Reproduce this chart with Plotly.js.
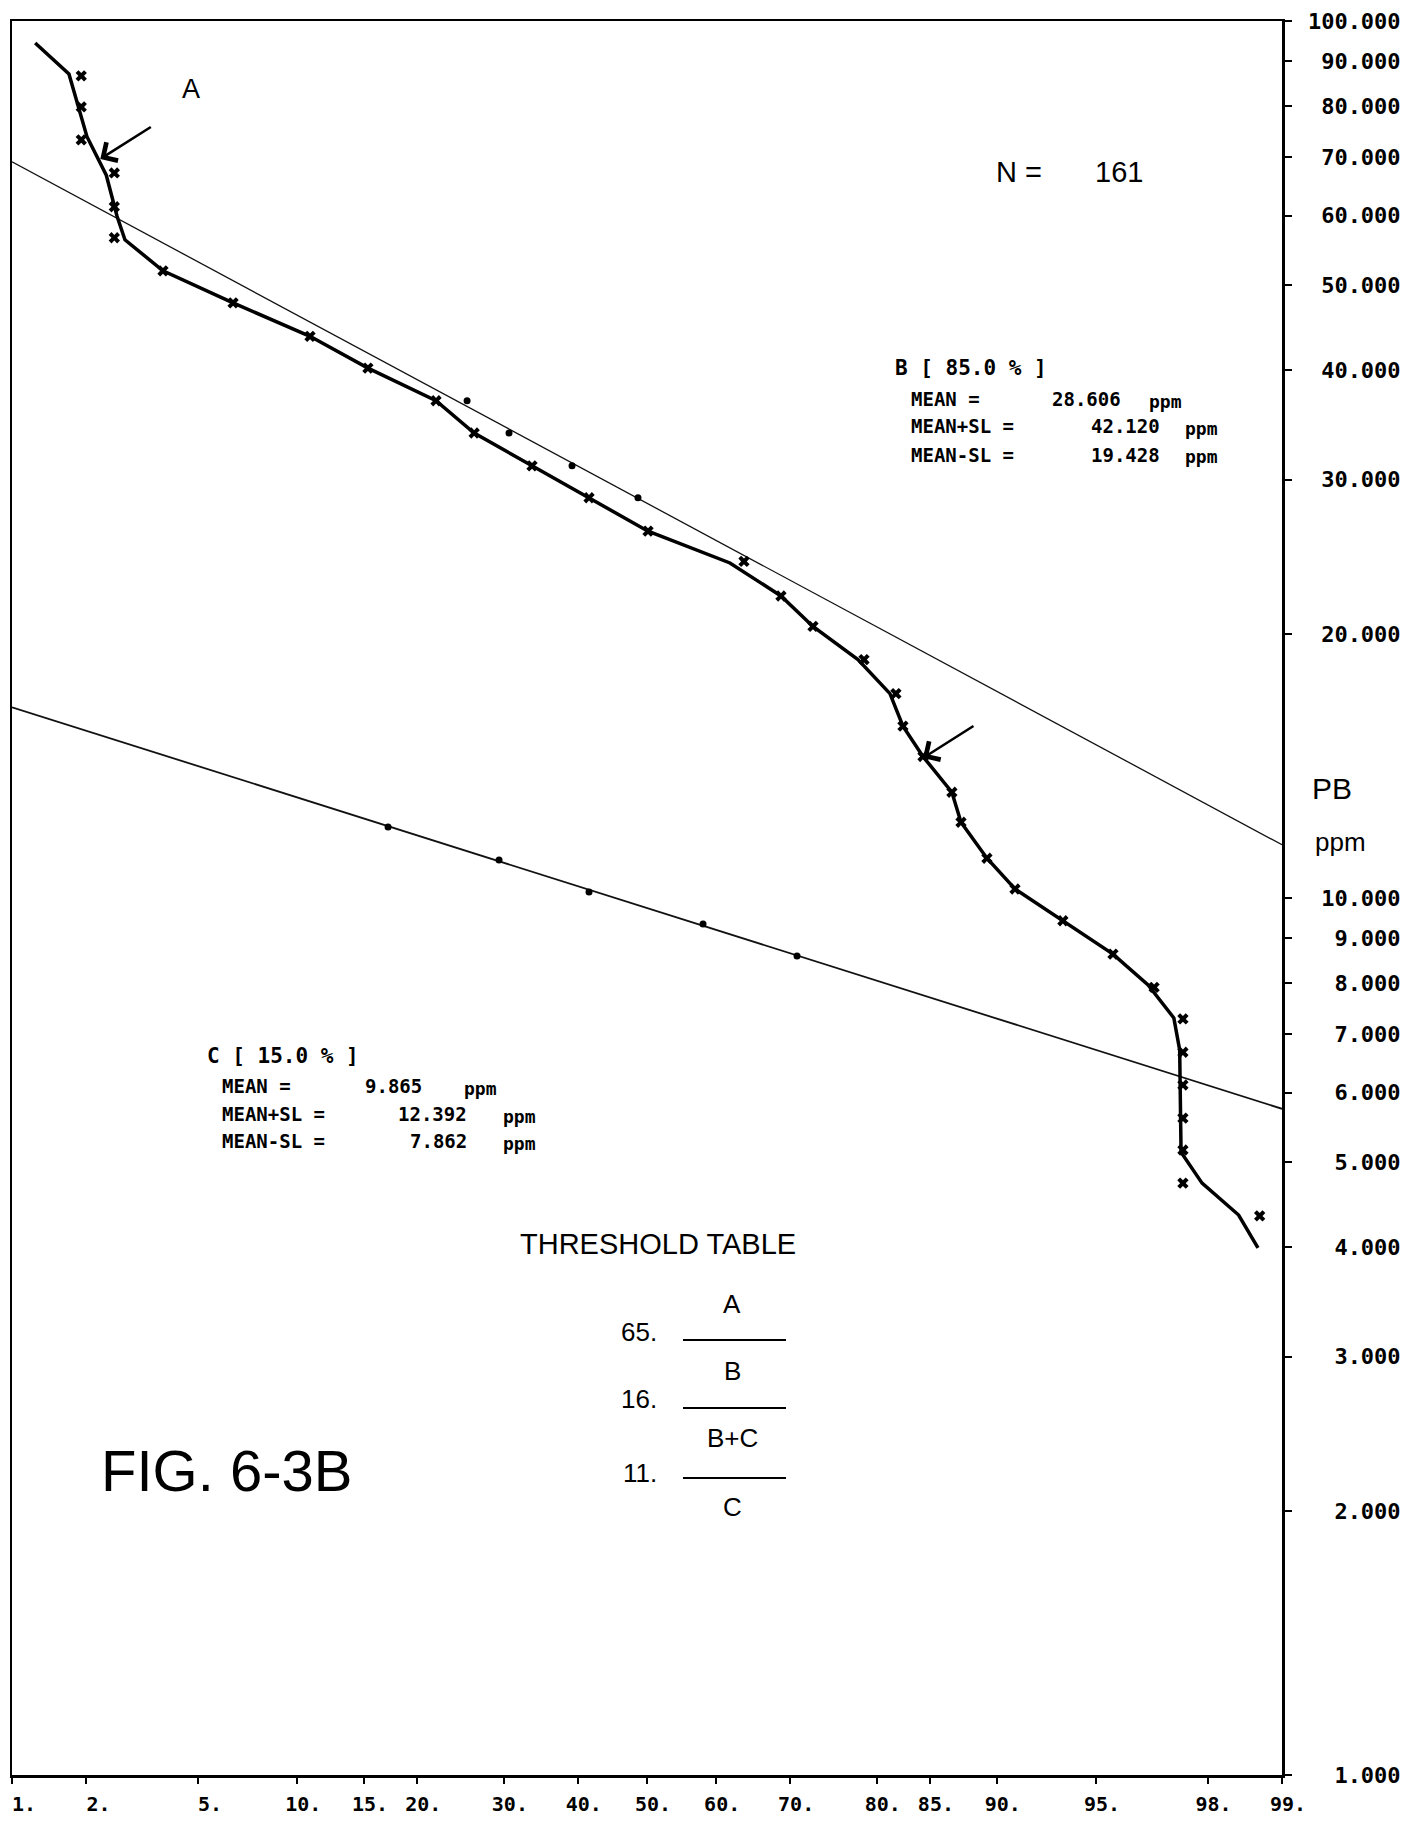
<!DOCTYPE html>
<html>
<head>
<meta charset="utf-8">
<script src="https://cdn.plot.ly/plotly-3.0.1.min.js"></script>
<style>
  html, body { margin: 0; padding: 0; background: #ffffff; }
  #chart { width: 1404px; height: 1822px; }
</style>
</head>
<body>
<div id="chart"></div>
<script>
// ---------------- DATA ----------------
// cumulative frequency (%) and PB concentration (ppm)
const curvePct = [1.25, 1.71, 2.01, 2.38, 2.61, 2.79, 3.81, 6.47, 10.85, 15.33, 21.98, 26.33, 33.68, 41.59, 50.15,
                  61.94, 68.82, 72.84, 78.02, 81.33, 82.58, 84.40, 86.80, 87.50, 89.35, 91.12, 93.62, 95.61,
                  96.68, 97.32, 97.45, 97.48, 97.90, 98.49, 98.74];
const curvePpm = [94.4, 87.0, 73.8, 66.7, 59.9, 56.3, 51.9, 47.7, 43.7, 40.2, 36.9, 33.9, 31.1, 28.6, 26.2,
                  24.1, 22.1, 20.4, 18.7, 17.1, 15.7, 14.5, 13.2, 12.2, 11.1, 10.24, 9.42, 8.63,
                  7.96, 7.30, 6.71, 5.13, 4.73, 4.35, 3.99];

const pointPct = [1.91, 1.91, 1.91, 2.55, 2.55, 2.55, 3.81, 6.47, 10.85, 15.33, 21.98, 26.33, 33.68, 41.59, 50.15,
                  63.88, 68.82, 72.84, 78.67, 81.91, 82.58, 84.40, 86.80, 87.50, 89.35, 91.12, 93.62, 95.61,
                  96.84, 97.52, 97.52, 97.52, 97.52, 97.52, 97.52, 98.76];
const pointPpm = [86.6, 79.8, 73.2, 67.1, 61.4, 56.6, 51.9, 47.7, 43.7, 40.2, 36.9, 33.9, 31.1, 28.6, 26.2,
                  24.2, 22.1, 20.4, 18.7, 17.1, 15.7, 14.5, 13.2, 12.2, 11.1, 10.24, 9.42, 8.63,
                  7.91, 7.28, 6.67, 6.12, 5.61, 5.16, 4.73, 4.34];

// population B (85 %) fitted line and its plotted points
const bLinePct = [1, 99];
const bLinePpm = [69.1, 11.5];
const bDotPct = [25.49, 30.66, 39.18, 48.68];
const bDotPpm = [36.9, 33.9, 31.1, 28.6];

// population C (15 %) fitted line and its plotted points
const cLinePct = [1, 99];
const cLinePpm = [16.5, 5.75];
const cDotPct = [17.14, 29.39, 41.59, 58.13, 70.87];
const cDotPpm = [12.05, 11.05, 10.16, 9.34, 8.59];

// arrows (tip positions)
const arrowPct = [2.26, 84.4];
const arrowPpm = [69.6, 14.44];

// axes
const xTickPct = [1, 2, 5, 10, 15, 20, 30, 40, 50, 60, 70, 80, 85, 90, 95, 98, 99];
const xTickText = ['1.', '2.', '5.', '10.', '15.', '20.', '30.', '40.', '50.', '60.', '70.', '80.', '85.', '90.', '95.', '98.', '99.'];
const yTickVals = [1, 2, 3, 4, 5, 6, 7, 8, 9, 10, 20, 30, 40, 50, 60, 70, 80, 90, 100];
const yTickText = ['1.000', '2.000', '3.000', '4.000', '5.000', '6.000', '7.000', '8.000', '9.000', '10.000',
                   '20.000', '30.000', '40.000', '50.000', '60.000', '70.000', '80.000', '90.000', '100.000'];

// ---------------- probability (normal quantile) scale ----------------
function probit(p) {
  const a = [-3.969683028665376e+01, 2.209460984245205e+02, -2.759285104469687e+02, 1.383577518672690e+02, -3.066479806614716e+01, 2.506628277459239e+00];
  const b = [-5.447609879822406e+01, 1.615858368580409e+02, -1.556989798598866e+02, 6.680131188771972e+01, -1.328068155288572e+01];
  const c = [-7.784894002430293e-03, -3.223964580411365e-01, -2.400758277161838e+00, -2.549732539343734e+00, 4.374664141464968e+00, 2.938163982698783e+00];
  const d = [7.784695709041462e-03, 3.224671290700398e-01, 2.445134137142996e+00, 3.754408661907416e+00];
  const plow = 0.02425, phigh = 1 - plow;
  let q, r;
  if (p < plow) {
    q = Math.sqrt(-2 * Math.log(p));
    return (((((c[0]*q+c[1])*q+c[2])*q+c[3])*q+c[4])*q+c[5]) / ((((d[0]*q+d[1])*q+d[2])*q+d[3])*q+1);
  }
  if (p <= phigh) {
    q = p - 0.5; r = q * q;
    return (((((a[0]*r+a[1])*r+a[2])*r+a[3])*r+a[4])*r+a[5])*q / (((((b[0]*r+b[1])*r+b[2])*r+b[3])*r+b[4])*r+1);
  }
  q = Math.sqrt(-2 * Math.log(1 - p));
  return -(((((c[0]*q+c[1])*q+c[2])*q+c[3])*q+c[4])*q+c[5]) / ((((d[0]*q+d[1])*q+d[2])*q+d[3])*q+1);
}
const pz = arr => arr.map(v => probit(v / 100));

// ---------------- traces ----------------
const traces = [
  { x: pz(bLinePct), y: bLinePpm, mode: 'lines', line: { color: '#111', width: 1.3 }, hoverinfo: 'skip' },
  { x: pz(cLinePct), y: cLinePpm, mode: 'lines', line: { color: '#111', width: 1.8 }, hoverinfo: 'skip' },
  { x: pz(curvePct), y: curvePpm, mode: 'lines', line: { color: '#000', width: 3.5 }, hoverinfo: 'skip' },
  { x: pz(pointPct), y: pointPpm, mode: 'markers', marker: { symbol: 'x', size: 10, color: '#000' }, hoverinfo: 'skip' },
  { x: pz(bDotPct), y: bDotPpm, mode: 'markers', marker: { symbol: 'circle', size: 7, color: '#000' }, hoverinfo: 'skip' },
  { x: pz(cDotPct), y: cDotPpm, mode: 'markers', marker: { symbol: 'circle', size: 7, color: '#000' }, hoverinfo: 'skip' }
];

// ---------------- layout helpers (pixel -> paper) ----------------
const L = 12, R = 1282, T = 21, B = 1775;
const px = (x) => (x - L) / (R - L);
const py = (y) => (B - y) / (B - T);
const mono = 'DejaVu Sans Mono, Liberation Mono, monospace';
const sans = 'Liberation Sans, Arial, sans-serif';

function txt(text, x, y, opt) {
  opt = opt || {};
  return {
    text: text, xref: 'paper', yref: 'paper', x: px(x), y: py(y),
    xanchor: opt.anchor || 'left', yanchor: 'middle', showarrow: false,
    font: { family: opt.family || mono, size: opt.size || 20, color: '#000', weight: opt.weight || 'normal' }
  };
}

const annotations = [
  txt('A', 191, 89, { family: sans, size: 27, anchor: 'center' }),
  txt('N =', 994, 172, { family: sans, size: 29 }),
  txt('161', 1093, 172, { family: sans, size: 29 }),

  txt('B [ 85.0 % ]', 893, 368, { size: 21, weight: 'bold' }),
  txt('MEAN =', 909, 399, { size: 19, weight: 'bold' }),
  txt('28.606', 1123, 399, { size: 19, weight: 'bold', anchor: 'right' }),
  txt('ppm', 1147, 401, { size: 18, weight: 'bold' }),
  txt('MEAN+SL =', 909, 426, { size: 19, weight: 'bold' }),
  txt('42.120', 1162, 426, { size: 19, weight: 'bold', anchor: 'right' }),
  txt('ppm', 1183, 428, { size: 18, weight: 'bold' }),
  txt('MEAN-SL =', 909, 455, { size: 19, weight: 'bold' }),
  txt('19.428', 1162, 455, { size: 19, weight: 'bold', anchor: 'right' }),
  txt('ppm', 1183, 457, { size: 18, weight: 'bold' }),

  txt('C [ 15.0 % ]', 205, 1056, { size: 21, weight: 'bold' }),
  txt('MEAN =', 220, 1086, { size: 19, weight: 'bold' }),
  txt('9.865', 424, 1086, { size: 19, weight: 'bold', anchor: 'right' }),
  txt('ppm', 462, 1088, { size: 18, weight: 'bold' }),
  txt('MEAN+SL =', 220, 1114, { size: 19, weight: 'bold' }),
  txt('12.392', 469, 1114, { size: 19, weight: 'bold', anchor: 'right' }),
  txt('ppm', 501, 1116, { size: 18, weight: 'bold' }),
  txt('MEAN-SL =', 220, 1141, { size: 19, weight: 'bold' }),
  txt('7.862', 469, 1141, { size: 19, weight: 'bold', anchor: 'right' }),
  txt('ppm', 501, 1143, { size: 18, weight: 'bold' }),

  txt('PB', 1310, 788, { family: sans, size: 30 }),
  txt('ppm', 1313, 842, { family: sans, size: 26 }),

  txt('THRESHOLD TABLE', 658, 1244, { family: sans, size: 29, anchor: 'center' }),
  txt('A', 732, 1304, { family: sans, size: 26, anchor: 'center' }),
  txt('65.', 659, 1332, { family: sans, size: 26, anchor: 'right' }),
  txt('B', 732, 1371, { family: sans, size: 26, anchor: 'center' }),
  txt('16.', 659, 1399, { family: sans, size: 26, anchor: 'right' }),
  txt('B+C', 732, 1438, { family: sans, size: 26, anchor: 'center' }),
  txt('11.', 659, 1473, { family: sans, size: 26, anchor: 'right' }),
  txt('C', 732, 1507, { family: sans, size: 26, anchor: 'center' }),

  txt('FIG. 6-3B', 99, 1470, { family: sans, size: 58 })
];

arrowPct.forEach((p, i) => {
  annotations.push({
    xref: 'x', yref: 'y', x: probit(p / 100), y: Math.log10(arrowPpm[i]),
    ax: 52, ay: -33, axref: 'pixel', ayref: 'pixel',
    showarrow: true, arrowhead: 4, arrowsize: 1.6, arrowwidth: 2.6, arrowcolor: '#000',
    standoff: 0, text: ''
  });
});

const shapes = [1340, 1408, 1478].map(y => ({
  type: 'line', xref: 'paper', yref: 'paper',
  x0: px(683), x1: px(786), y0: py(y), y1: py(y),
  line: { color: '#000', width: 2 }
}));

const layout = {
  width: 1404, height: 1822,
  margin: { l: L, r: 1404 - R, t: T, b: 1822 - B },
  paper_bgcolor: '#ffffff', plot_bgcolor: '#ffffff',
  showlegend: false,
  xaxis: {
    range: [probit(0.01), probit(0.99)],
    tickmode: 'array', tickvals: pz(xTickPct),
    ticktext: xTickText.map(t => t.padStart(3, '\u00A0')),
    ticks: 'outside', ticklen: 6, tickwidth: 2, tickcolor: '#000',
    showline: true, linewidth: 2.5, linecolor: '#000', mirror: true,
    showgrid: false, zeroline: false,
    tickfont: { family: mono, size: 20, color: '#000', weight: 'bold' },
    ticklabelstandoff: 3, ticklabelshift: 6, ticklabeloverflow: 'allow'
  },
  yaxis: {
    type: 'log', range: [0, 2], side: 'right',
    tickmode: 'array', tickvals: yTickVals,
    ticktext: yTickText.map(t => t.padStart(7, '\u00A0')),
    ticks: 'outside', ticklen: 7, tickwidth: 2, tickcolor: '#000',
    showline: true, linewidth: 2.5, linecolor: '#000', mirror: true,
    showgrid: false, zeroline: false,
    tickfont: { family: mono, size: 22, color: '#000', weight: 'bold' },
    ticklabelstandoff: 12, ticklabeloverflow: 'allow'
  },
  annotations: annotations,
  shapes: shapes
};

Plotly.newPlot('chart', traces, layout, { staticPlot: true, displayModeBar: false });
</script>
</body>
</html>
